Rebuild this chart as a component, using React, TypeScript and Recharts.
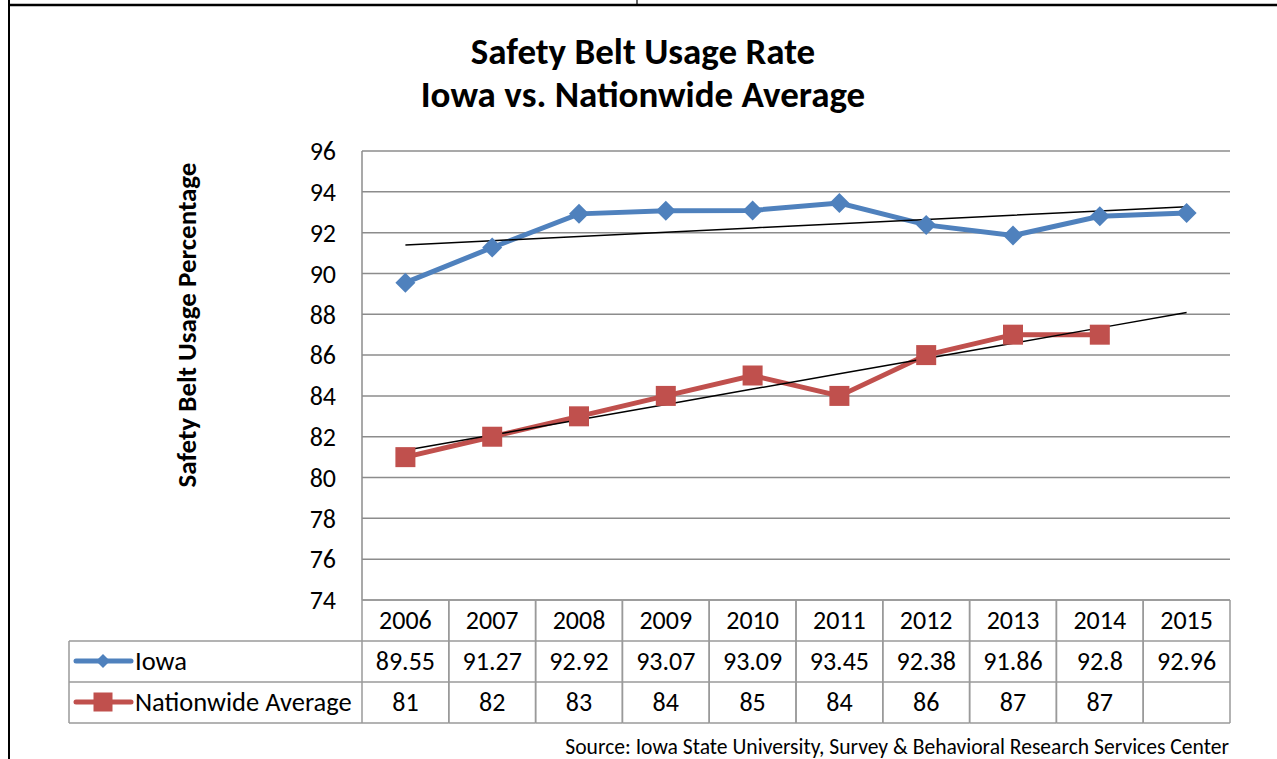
import React from 'react';
import { LineChart, Line, XAxis, YAxis, CartesianGrid } from 'recharts';

const YEARS = ['2006', '2007', '2008', '2009', '2010', '2011', '2012', '2013', '2014', '2015'];
const IOWA = [89.55, 91.27, 92.92, 93.07, 93.09, 93.45, 92.38, 91.86, 92.8, 92.96];
const NATIONWIDE: (number | null)[] = [81, 82, 83, 84, 85, 84, 86, 87, 87, null];
const Y_TICKS = [74, 76, 78, 80, 82, 84, 86, 88, 90, 92, 94, 96];

const FONT = 'Calibri, Carlito, Lato, sans-serif';
const BLUE = '#4F81BD';
const RED = '#C0504D';
const GRID = '#8c8c8c';
const TABLE_LINE = '#9a9a9a';
const TABLE_FONT = 26;

// half of one category column, also used as the x padding so points sit mid-cell
const HALF_CELL = 43.4;
const ROW_Y = [0, 41, 82, 123];

// least-squares linear trend over the non-empty points, evaluated at every category
function linearTrend(values: (number | null)[]): number[] {
  const pts = values
    .map((v, i) => (v == null ? null : [i, v]))
    .filter((p): p is number[] => p !== null);
  const n = pts.length;
  const mx = pts.reduce((s, p) => s + p[0], 0) / n;
  const my = pts.reduce((s, p) => s + p[1], 0) / n;
  let sxy = 0;
  let sxx = 0;
  pts.forEach(([x, y]) => {
    sxy += (x - mx) * (y - my);
    sxx += (x - mx) * (x - mx);
  });
  const slope = sxy / sxx;
  return values.map((_, i) => my + slope * (i - mx));
}

const iowaTrend = linearTrend(IOWA);
const nationTrend = linearTrend(NATIONWIDE);

const chartData = YEARS.map((year, i) => ({
  year,
  iowa: IOWA[i],
  nation: NATIONWIDE[i],
  iowaTrend: iowaTrend[i],
  nationTrend: nationTrend[i],
}));

function Diamond(props: any) {
  const { cx, cy, index } = props;
  if (cx == null || cy == null) return <g key={`dm-${index}`} />;
  const r = 10;
  return (
    <polygon
      key={`dm-${index}`}
      points={`${cx},${cy - r} ${cx + r},${cy} ${cx},${cy + r} ${cx - r},${cy}`}
      fill={BLUE}
    />
  );
}

function Square(props: any) {
  const { cx, cy, index } = props;
  if (cx == null || cy == null) return <g key={`sq-${index}`} />;
  const s = 10;
  return <rect key={`sq-${index}`} x={cx - s} y={cy - s} width={s * 2} height={s * 2} fill={RED} />;
}

// each x tick draws one column of the data table below the plot
function TableColumn(props: any) {
  const { x, y, payload, index } = props;
  const i = index ?? YEARS.indexOf(payload.value);
  const left = x - HALF_CELL;
  const right = x + HALF_CELL;
  const nat = NATIONWIDE[i];
  return (
    <g>
      {ROW_Y.map((dy) => (
        <line key={dy} x1={left} x2={right} y1={y + dy} y2={y + dy} stroke={TABLE_LINE} strokeWidth={1.5} />
      ))}
      <line x1={left} x2={left} y1={y} y2={y + ROW_Y[3]} stroke={TABLE_LINE} strokeWidth={1.5} />
      <line x1={right} x2={right} y1={y} y2={y + ROW_Y[3]} stroke={TABLE_LINE} strokeWidth={1.5} />
      <text x={x} y={y + 29} textAnchor="middle" fontSize={TABLE_FONT} fontFamily={FONT} fill="#000">
        {payload.value}
      </text>
      <text x={x} y={y + 70} textAnchor="middle" fontSize={TABLE_FONT} fontFamily={FONT} fill="#000">
        {IOWA[i]}
      </text>
      <text x={x} y={y + 111} textAnchor="middle" fontSize={TABLE_FONT} fontFamily={FONT} fill="#000">
        {nat == null ? '' : nat}
      </text>
    </g>
  );
}

export default function App() {
  return (
    <div
      style={{
        position: 'absolute',
        left: 0,
        top: 0,
        width: 1277,
        height: 759,
        background: '#fff',
        overflow: 'hidden',
      }}
    >
      <LineChart
        width={1277}
        height={759}
        data={chartData}
        margin={{ top: 151, right: 47, bottom: 36, left: 302 }}
      >
        <CartesianGrid vertical={false} stroke={GRID} strokeWidth={1.5} />
        <XAxis
          dataKey="year"
          height={123}
          padding={{ left: HALF_CELL, right: HALF_CELL }}
          axisLine={false}
          tickLine={false}
          tickSize={0}
          tickMargin={0}
          interval={0}
          tick={<TableColumn />}
        />
        <YAxis
          width={60}
          domain={[74, 96]}
          ticks={Y_TICKS}
          interval={0}
          axisLine={{ stroke: GRID, strokeWidth: 1.5 }}
          tickLine={false}
          tickSize={0}
          tickMargin={26}
          tick={{ fill: '#000', fontSize: TABLE_FONT, fontFamily: FONT }}
        />
        <Line
          dataKey="iowa"
          stroke={BLUE}
          strokeWidth={5}
          dot={Diamond}
          activeDot={false}
          isAnimationActive={false}
        />
        <Line
          dataKey="nation"
          stroke={RED}
          strokeWidth={5}
          dot={Square}
          activeDot={false}
          isAnimationActive={false}
        />
        <Line
          dataKey="iowaTrend"
          stroke="#000"
          strokeWidth={1.5}
          dot={false}
          activeDot={false}
          isAnimationActive={false}
        />
        <Line
          dataKey="nationTrend"
          stroke="#000"
          strokeWidth={1.5}
          dot={false}
          activeDot={false}
          isAnimationActive={false}
        />
      </LineChart>

      <svg
        width={1277}
        height={759}
        style={{ position: 'absolute', left: 0, top: 0, pointerEvents: 'none' }}
      >
        {/* page frame */}
        <line x1={9} x2={1277} y1={5} y2={5} stroke="#000" strokeWidth={2.5} />
        <line x1={9} x2={9} y1={0} y2={759} stroke="#000" strokeWidth={2} />
        <line x1={637} x2={637} y1={0} y2={5} stroke="#000" strokeWidth={1.2} />

        <text x={643} y={64} textAnchor="middle" fontSize={37} fontWeight="bold" fontFamily={FONT}>
          Safety Belt Usage Rate
        </text>
        <text x={643} y={106.5} textAnchor="middle" fontSize={37} fontWeight="bold" fontFamily={FONT}>
          Iowa vs. Nationwide Average
        </text>

        <text
          x={196}
          y={325}
          transform="rotate(-90 196 325)"
          textAnchor="middle"
          fontSize={27}
          fontWeight="bold"
          fontFamily={FONT}
        >
          Safety Belt Usage Percentage
        </text>

        {/* legend cells of the data table */}
        <g stroke={TABLE_LINE} strokeWidth={1.5}>
          <line x1={69} x2={362} y1={641} y2={641} />
          <line x1={69} x2={362} y1={682} y2={682} />
          <line x1={69} x2={362} y1={723} y2={723} />
          <line x1={69} x2={69} y1={641} y2={723} />
        </g>
        <line x1={76} x2={131} y1={661} y2={661} stroke={BLUE} strokeWidth={5} strokeLinecap="round" />
        <polygon points="103,654 110,661 103,668 96,661" fill={BLUE} />
        <text x={135} y={670} fontSize={26.5} fontFamily={FONT}>
          Iowa
        </text>
        <line x1={76} x2={131} y1={702} y2={702} stroke={RED} strokeWidth={5} strokeLinecap="round" />
        <rect x={93.5} y={692.5} width={19} height={19} fill={RED} />
        <text x={135} y={711} fontSize={26.5} fontFamily={FONT}>
          Nationwide Average
        </text>

        <text x={1229} y={753.5} textAnchor="end" fontSize={21.6} fontFamily={FONT}>
          Source:  Iowa State University, Survey &amp; Behavioral Research Services Center
        </text>
      </svg>
    </div>
  );
}
